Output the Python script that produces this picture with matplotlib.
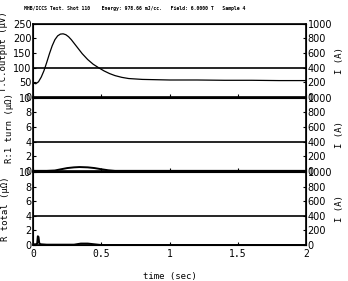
import matplotlib
matplotlib.use("Agg")
from matplotlib import pyplot as plt

# thermocouple output (uV) vs time (s)
tc_time = [0, 0.02, 0.04, 0.06, 0.08, 0.10, 0.12, 0.14, 0.16, 0.18, 0.20, 0.22,
           0.24, 0.26, 0.28, 0.30, 0.33, 0.36, 0.40, 0.44, 0.48, 0.52, 0.56,
           0.60, 0.65, 0.70, 0.80, 0.90, 1.0, 1.2, 1.4, 1.6, 1.8, 2.0]
tc_output = [48, 45, 52, 68, 90, 118, 148, 175, 196, 209, 215, 216,
             213, 206, 196, 184, 166, 148, 128, 112, 100, 89, 80,
             73, 67, 63, 60, 59, 58, 58, 57, 57, 56, 56]

# resistance of one turn (uOhm)
r1_time = [0, 0.10, 0.16, 0.20, 0.25, 0.30, 0.34, 0.40, 0.45, 0.50, 0.55, 0.60, 2.0]
r1_turn = [0, 0.0, 0.05, 0.2, 0.38, 0.48, 0.52, 0.48, 0.38, 0.22, 0.08, 0.0, 0]

# total resistance (uOhm)
rt_time = [0, 0.02, 0.03, 0.035, 0.04, 0.045, 0.05, 0.06, 0.10, 0.30, 0.35, 0.40, 0.45, 0.50, 2.0]
r_total = [0.1, 0.1, 0.2, 1.2, 1.1, 0.3, 0.15, 0.1, 0.05, 0.05, 0.2, 0.2, 0.1, 0.0, 0.0]

# transport current (A)
i_time = [0, 2.0]
current = [400, 400]

title = "MHB/ICCS Test. Shot 110    Energy: 978.66 mJ/cc.   Field: 6.0000 T   Sample 4"

fig = plt.figure(figsize=(3.48, 2.81), dpi=100)
mono = "DejaVu Sans Mono"
left, width, h = 0.095, 0.785, 0.26
bottoms = [0.655, 0.392, 0.128]

# data, y max, y ticks, label, label x, label y (axes coords)
panels = [
    (tc_time, tc_output, 250, [0, 50, 100, 150, 200, 250], "T.C.output (\u03bcV)", -0.092, 0.62),
    (r1_time, r1_turn, 10, [0, 2, 4, 6, 8, 10], "R:1 turn (\u03bc\u03a9)", -0.07, 0.58),
    (rt_time, r_total, 10, [0, 2, 4, 6, 8, 10], "R total (\u03bc\u03a9)", -0.085, 0.5),
]

for k, (tx, ty, ymax, yt, lab, lx, ly) in enumerate(panels):
    ax = fig.add_axes([left, bottoms[k], width, h])
    ax.plot(tx, ty, color="black", lw=0.9 if k == 0 else 1.4)
    ax.set_xlim(0, 2)
    ax.set_ylim(0, ymax)
    ax.set_yticks(yt)
    ax.set_xticks([0, 0.5, 1, 1.5, 2])
    ax.tick_params(direction="in", length=2.5, labelsize=7, pad=1, width=0.8)
    ax.set_ylabel(lab, family=mono, fontsize=6.5, labelpad=0)
    ax.yaxis.set_label_coords(lx, ly)
    if k < 2:
        ax.tick_params(labelbottom=False)
    else:
        ax.set_xticklabels(["0", "0.5", "1", "1.5", "2"], family=mono)
        ax.tick_params(axis="x", labelsize=7, pad=3)
        ax.set_xlabel("time (sec)", family=mono, fontsize=6.5, labelpad=9)
    for s in ax.spines.values():
        s.set_linewidth(1.2)

    ax2 = ax.twinx()
    ax2.plot(i_time, current, color="black", lw=1.2)
    ax2.set_ylim(0, 1000)
    ax2.set_yticks([0, 200, 400, 600, 800, 1000])
    ax2.tick_params(direction="in", length=2.5, labelsize=7, pad=1)
    ax2.set_ylabel("I (A)", family=mono, fontsize=6.5, rotation=90)
    ax2.yaxis.set_label_coords(1.105, 0.5)

fig.text(0.069, 0.963, title, fontsize=3.5, fontweight="bold", family=mono)

fig.savefig("out.png", dpi=100)
